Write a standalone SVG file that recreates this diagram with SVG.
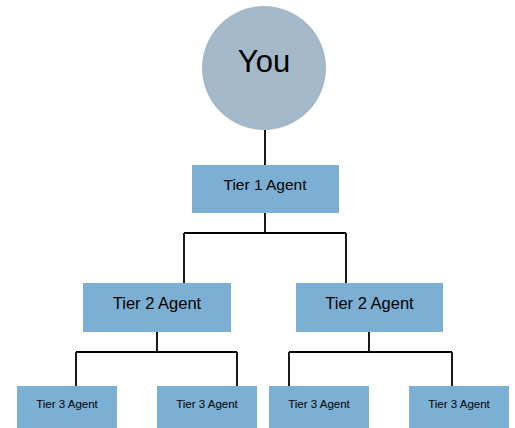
<svg xmlns="http://www.w3.org/2000/svg" width="515" height="428" viewBox="0 0 515 428">
<style>
.box{fill:#7bafd4;}
.t{font-family:"Liberation Sans",Arial,sans-serif;fill:#000;text-anchor:middle;}
.c{stroke:#000;stroke-width:1.8;fill:none;}
</style>
<rect width="515" height="428" fill="#fff"/>
<g id="connectors">
<path class="c" d="M265 129 V165"/>
<path class="c" d="M265 213 V233 M184 233 H346 M184 233 V283 M346 233 V283"/>
<path class="c" d="M157 332 V352 M76 352 H237 M76 352 V386 M237 352 V386"/>
<path class="c" d="M369 332 V352 M289 352 H452 M289 352 V386 M452 352 V386"/>
</g>
<g id="you">
<circle cx="264" cy="68" r="62" fill="#a3b9ca"/>
<text class="t" x="264" y="72" font-size="31">You</text>
</g>
<g id="tier1">
<rect class="box" x="192" y="165" width="147" height="48"/>
<text class="t" x="265" y="190" font-size="15.5">Tier 1 Agent</text>
</g>
<g id="tier2a">
<rect class="box" x="83" y="283" width="148" height="49"/>
<text class="t" x="157" y="309" font-size="16.5">Tier 2 Agent</text>
</g>
<g id="tier2b">
<rect class="box" x="296" y="283" width="147" height="49"/>
<text class="t" x="369.5" y="309" font-size="16.5">Tier 2 Agent</text>
</g>
<g id="tier3a">
<rect class="box" x="17" y="386" width="100" height="42"/>
<text class="t" x="67" y="408" font-size="11.5">Tier 3 Agent</text>
</g>
<g id="tier3b">
<rect class="box" x="157" y="386" width="100" height="42"/>
<text class="t" x="207" y="408" font-size="11.5">Tier 3 Agent</text>
</g>
<g id="tier3c">
<rect class="box" x="269" y="386" width="100" height="42"/>
<text class="t" x="319" y="408" font-size="11.5">Tier 3 Agent</text>
</g>
<g id="tier3d">
<rect class="box" x="409" y="386" width="100" height="42"/>
<text class="t" x="459" y="408" font-size="11.5">Tier 3 Agent</text>
</g>
</svg>
